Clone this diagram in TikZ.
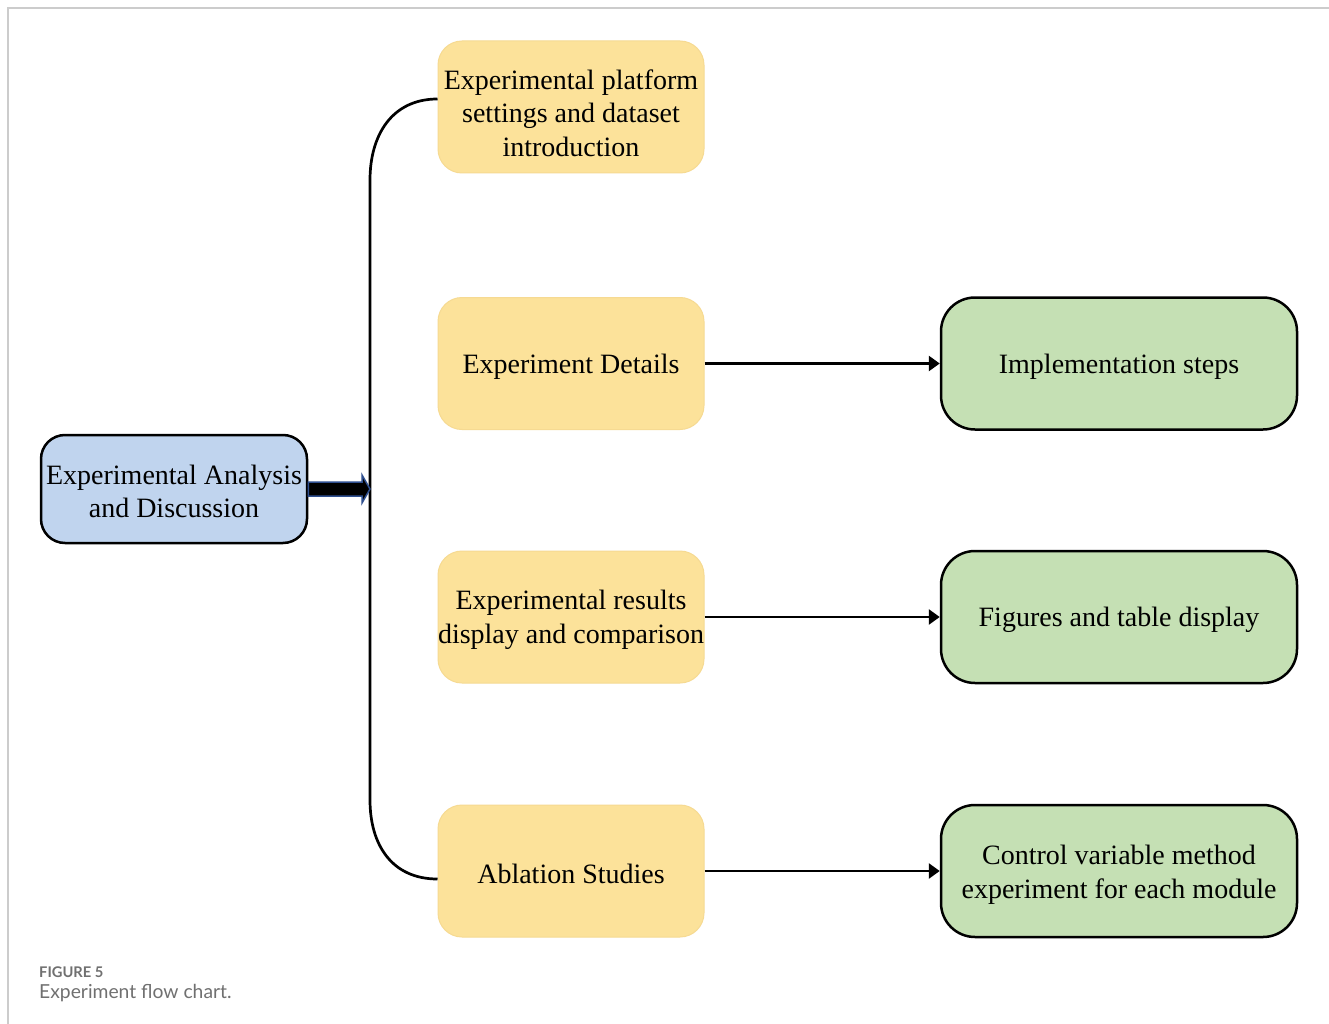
\documentclass[tikz,border=0pt]{standalone}
\usepackage{fontspec}
\setmainfont{Liberation Serif}
\newfontfamily\capfont{Lato}
\usetikzlibrary{arrows.meta,calc}
\definecolor{boxblue}{HTML}{C0D4EE}
\definecolor{boxyellow}{HTML}{FCE29A}
\definecolor{yellowedge}{HTML}{F6DA92}
\definecolor{boxgreen}{HTML}{C5E0B4}
\definecolor{arrowblue}{HTML}{2F4F8F}
\definecolor{framegray}{HTML}{CCCCCC}
\definecolor{capgray}{HTML}{707070}
\tikzset{
  txt/.style={font=\fontsize{28}{33.5}\selectfont, align=center, inner sep=0pt},
  boxtext/.style={txt, yshift=-3pt},
  mainbox/.style={draw=black, line width=2.5pt, fill=boxblue, rounded corners=24pt,
    minimum width=266pt, minimum height=108pt},
  topicbox/.style={draw=yellowedge, line width=1pt, fill=boxyellow, rounded corners=24pt,
    minimum width=266pt, minimum height=132pt},
  resultbox/.style={draw=black, line width=2.5pt, fill=boxgreen, rounded corners=34pt,
    minimum width=356pt, minimum height=132pt},
  link/.style={line width=2.7pt, draw=black},
  linkarrow/.style={link, -{Triangle[length=11pt,width=15pt]}},
}
\begin{document}
\begin{tikzpicture}[x=1pt,y=-1pt]
\useasboundingbox (0,0) rectangle (1329,1024);
\fill[white] (0,0) rectangle (1329,1024);
% page frame
\draw[framegray, line width=2pt] (8,1024) -- (8,8) -- (1329,8);

% boxes, each with its centred caption
\node[mainbox, label={[boxtext, yshift=0.5pt]center:{Experimental Analysis\\and Discussion}}] (main) at (174,489) {};
\node[topicbox, label={[boxtext, yshift=-3pt]center:{Experimental platform\\settings and dataset\\introduction}}] (t1) at (571,107) {};
\node[topicbox, label={[boxtext]center:{Experiment Details}}] (t2) at (571,363.5) {};
\node[topicbox, label={[boxtext]center:{Experimental results\\display and comparison}}] (t3) at (571,617) {};
\node[topicbox, label={[boxtext]center:{Ablation Studies}}] (t4) at (571,871) {};
\node[resultbox, label={[boxtext]center:{Implementation steps}}] (r2) at (1119,363.5) {};
\node[resultbox, label={[boxtext]center:{Figures and table display}}] (r3) at (1119,617) {};
\node[resultbox, label={[boxtext, yshift=-1pt]center:{Control variable method\\experiment for each module}}] (r4) at (1119,871) {};

% bracket joining the four topics
\coordinate (bt) at (370,180);
\coordinate (bb) at (370,800);
\coordinate (bm) at (370,489);
\coordinate (t1in) at ($(t1.west)+(0,-8)$);
\coordinate (t4in) at ($(t4.west)+(0,8)$);
\draw[link] (t1in) .. controls (392,99) and (370,135) .. (bt)
  -- (bb) .. controls (370,845) and (392,879) .. (t4in);

% thick block arrow into the bracket
\draw[arrowblue, line width=1.5pt, fill=black]
  ($(main.east)+(0,-7)$) -- ($(bm)+(-8,-7)$) -- ($(bm)+(-8,-14)$) -- (bm)
  -- ($(bm)+(-8,14)$) -- ($(bm)+(-8,7)$) -- ($(main.east)+(0,7)$) -- cycle;

% topic to result arrows
\draw[linkarrow] (t2.east) -- (r2.west);
\draw[linkarrow] (t3.east) -- (r3.west);
\draw[linkarrow] (t4.east) -- (r4.west);

% caption
\node[anchor=base west, inner sep=0pt, text=capgray, font=\capfont\bfseries\fontsize{14.7}{16}\selectfont] (capnum) at (39,977) {FIGURE 5};
\node[anchor=base west, inner sep=0pt, text=capgray, font=\capfont\fontsize{19.3}{21}\selectfont] (captxt) at (39,998) {Experiment flow chart.};
\end{tikzpicture}
\end{document}
